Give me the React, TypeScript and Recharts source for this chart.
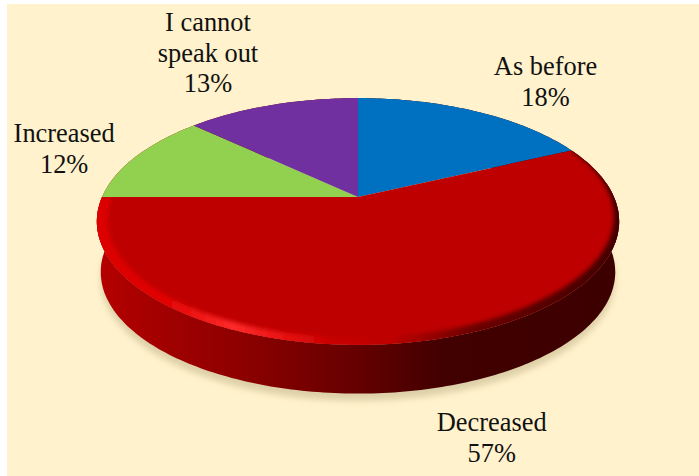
import React from 'react';
import { PieChart, Pie, Cell } from 'recharts';

const categories = ['As before', 'Decreased', 'Increased', 'I cannot speak out'];
const values = [18, 57, 12, 13];
const colors = ['#0070C0', '#BE0000', '#92D050', '#7030A0'];
const labelLines = [['As before', '18%'], ['Decreased', '57%'], ['Increased', '12%'], ['I cannot', 'speak out', '13%']];
const labelNudges = [[70, -30], [64.5, 97], [-72, -8], [-64, -52]];

const rows = categories.map((name, i) => ({ name, value: values[i] }));

// perspective tilt of the disc
const TILT = 0.198;
const SQUASH = 0.463;
const BOTTOM_SCALE = 0.985;
const DEPTH = 51;

type Pt = [number, number];

function project(cx: number, cy: number, r: number, deg: number, f = 1, scale = 1, dy = 0): Pt {
  const a = ((90 - deg) * Math.PI) / 180; // clockwise from the top
  const u = Math.sin(a) * f;
  const v = Math.cos(a) * f;
  const d = 1 + TILT * v;
  return [cx + (scale * r * u) / d, cy + dy - (scale * r * SQUASH * v) / d];
}

function arc(p: any, f = 1, scale = 1, dy = 0): Pt[] {
  const { cx, cy, outerRadius: r, startAngle: s, endAngle: e } = p;
  const n = Math.max(2, Math.ceil(Math.abs(e - s)));
  const out: Pt[] = [];
  for (let i = 0; i <= n; i++) out.push(project(cx, cy, r, s + ((e - s) * i) / n, f, scale, dy));
  return out;
}

// inner edge of the bevel: thin on the far right, full width elsewhere
function bevelInner(p: any): Pt[] {
  const { cx, cy, outerRadius: r, startAngle: s, endAngle: e } = p;
  const n = Math.max(2, Math.ceil(Math.abs(e - s)));
  const out: Pt[] = [];
  for (let i = 0; i <= n; i++) {
    const deg = s + ((e - s) * i) / n;
    const clockwise = 90 - deg;
    const t = Math.min(1, Math.max(0, (clockwise - 75) / 65));
    out.push(project(cx, cy, r, deg, 1 - (0.006 + 0.034 * t)));
  }
  return out;
}

const toPath = (pts: Pt[]) => pts.map((q, i) => `${i ? 'L' : 'M'}${q[0].toFixed(1)} ${q[1].toFixed(1)}`).join(' ');

function ShadowShape(p: any) {
  const pts = arc(p, 1, BOTTOM_SCALE, DEPTH + 7);
  return <path d={`M${p.cx} ${p.cy + DEPTH + 7} ${toPath(pts).replace('M', 'L')} Z`} fill="#DDD0A8" filter="url(#softShadow)" />;
}

function SideShape(p: any) {
  const top = arc(p);
  const bottom = arc(p, 1, BOTTOM_SCALE, DEPTH).reverse();
  return <path d={`${toPath(top)} ${toPath(bottom).replace('M', 'L')} Z`} fill="url(#sideGrad)" />;
}

function TopShape(p: any) {
  const rim = arc(p);
  const d = `M${p.cx} ${p.cy} ${toPath(rim).replace('M', 'L')} Z`;
  const id = `clip-${Math.round(p.startAngle)}`;
  const isBig = Math.abs(p.endAngle - p.startAngle) > 180;
  const band = `${toPath(arc(p, 1.03))} ${toPath(bevelInner(p).reverse()).replace('M', 'L')} Z`;
  return (
    <g>
      <path d={d} fill={p.fill} />
      {isBig && (
        <g clipPath={`url(#${id})`}>
          <clipPath id={id}><path d={d} /></clipPath>
          <path d={band} fill="url(#rimGrad)" filter="url(#softRim)" />
        </g>
      )}
    </g>
  );
}

function renderLabel(p: any) {
  const i = p.index;
  const [x, y] = project(p.cx, p.cy, p.outerRadius, p.midAngle);
  const lines = labelLines[i];
  const lh = 30.5;
  const cx = x + labelNudges[i][0];
  const cy = y + labelNudges[i][1];
  return (
    <text key={i} x={cx} y={cy} textAnchor="middle" fontFamily="'Liberation Serif'" fontSize={26.4} fill="#111">
      {lines.map((t, k) => (
        <tspan key={k} x={cx} y={cy + (k - (lines.length - 1) / 2) * lh + 9}>{t}</tspan>
      ))}
    </text>
  );
}

const common = {
  data: rows,
  dataKey: 'value',
  nameKey: 'name',
  cx: 358,
  cy: 197,
  outerRadius: 256,
  startAngle: 90,
  endAngle: -270,
  stroke: 'none',
  isAnimationActive: false,
};

export default function App() {
  return (
    <div style={{ position: 'absolute', left: 0, top: 0, width: 699, height: 476, background: '#fff', overflow: 'hidden' }}>
      <div style={{ position: 'absolute', left: 7, top: 4, right: 0, bottom: 0, background: '#FFF2CC' }} />
      <div style={{ position: 'absolute', left: 0, top: 0 }}>
        <PieChart width={699} height={476} margin={{ top: 0, right: 0, bottom: 0, left: 0 }}>
          <defs>
            <filter id="softShadow" x="-10%" y="-10%" width="120%" height="120%">
              <feGaussianBlur stdDeviation="3" />
            </filter>
            <filter id="softRim" x="-5%" y="-5%" width="110%" height="110%">
              <feGaussianBlur stdDeviation="2" />
            </filter>
            <linearGradient id="sideGrad" gradientUnits="userSpaceOnUse" x1="98" y1="0" x2="620" y2="0">
              <stop offset="0" stopColor="#B40000" />
              <stop offset="0.28" stopColor="#8C0000" />
              <stop offset="0.48" stopColor="#680000" />
              <stop offset="0.66" stopColor="#420000" />
              <stop offset="1" stopColor="#3C0000" />
            </linearGradient>
            <linearGradient id="rimGrad" gradientUnits="userSpaceOnUse" x1="98" y1="0" x2="620" y2="0">
              <stop offset="0" stopColor="#DC0000" />
              <stop offset="0.12" stopColor="#E00000" />
              <stop offset="0.26" stopColor="#FF2A2A" />
              <stop offset="0.36" stopColor="#E81010" />
              <stop offset="0.45" stopColor="#C80000" />
              <stop offset="0.56" stopColor="#BE0000" />
              <stop offset="0.72" stopColor="#6A0000" />
              <stop offset="1" stopColor="#400000" />
            </linearGradient>
          </defs>
          <Pie {...common} shape={ShadowShape} />
          <Pie {...common} shape={SideShape} />
          <Pie {...common} shape={TopShape} label={renderLabel} labelLine={false}>
            {rows.map((r, i) => <Cell key={r.name} fill={colors[i]} />)}
          </Pie>
        </PieChart>
      </div>
    </div>
  );
}
